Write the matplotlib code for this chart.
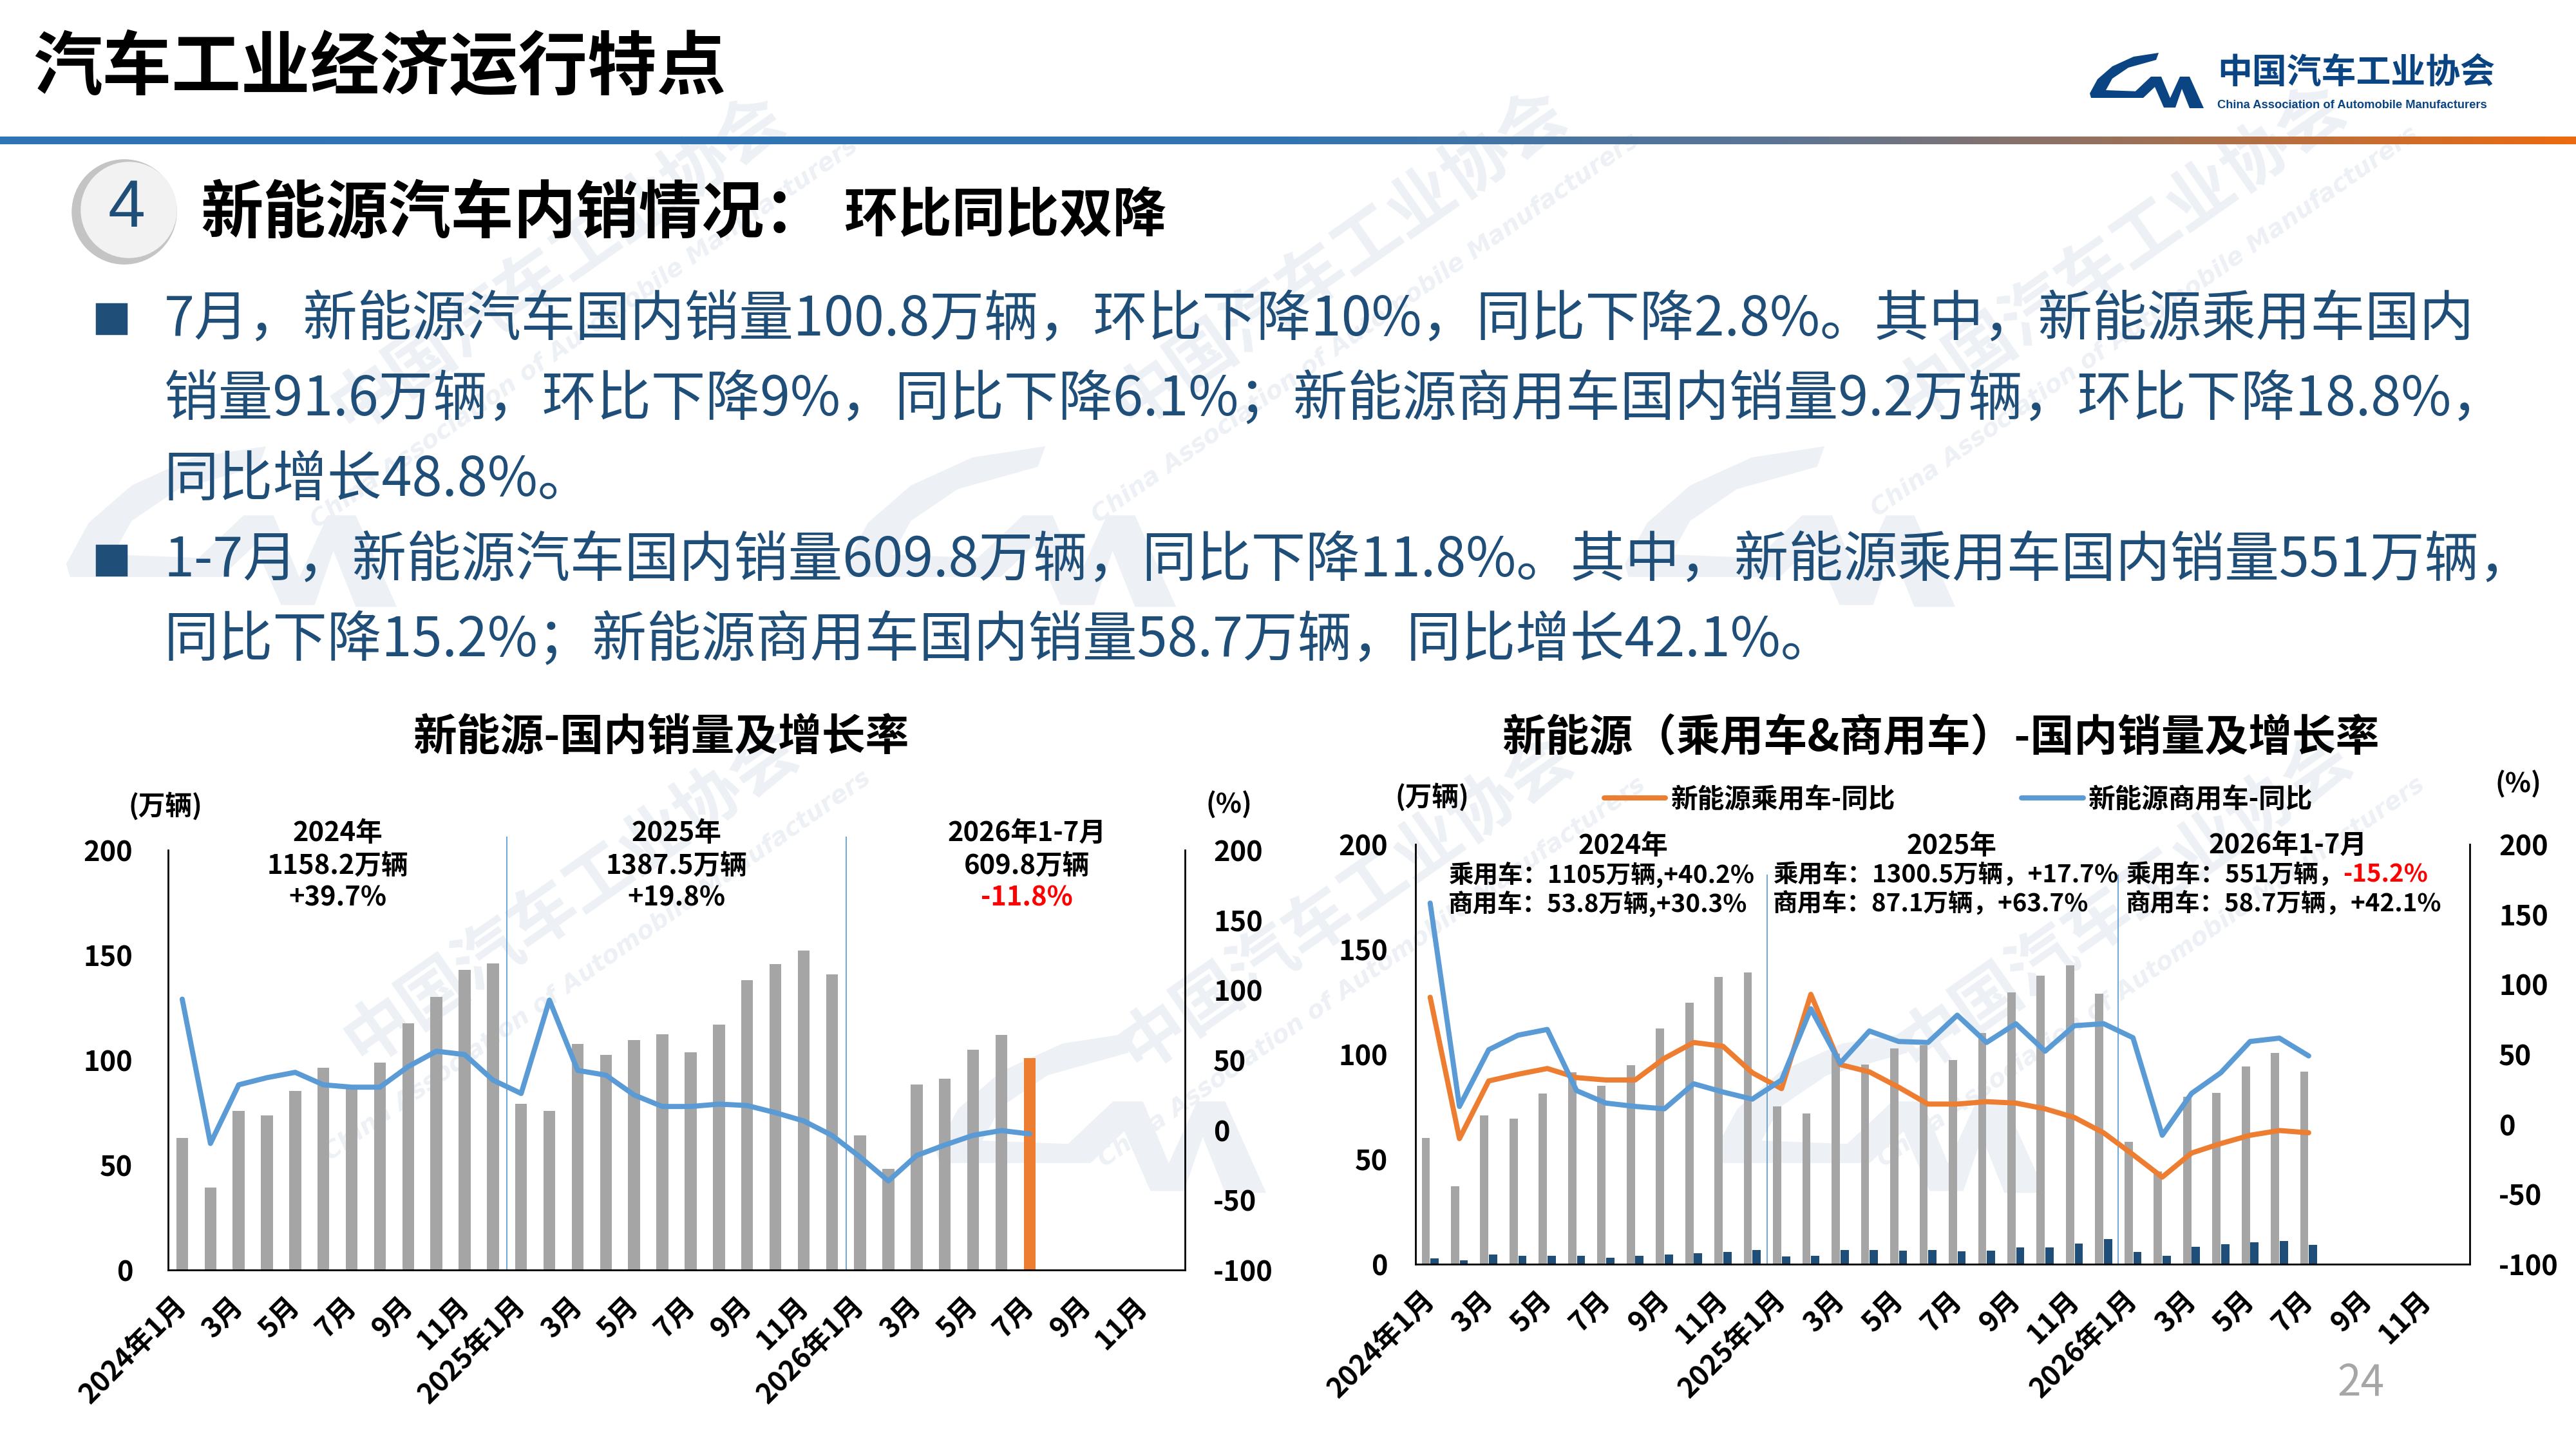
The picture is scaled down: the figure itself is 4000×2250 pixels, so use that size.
import numpy as np
import matplotlib
matplotlib.use("Agg")
import matplotlib.pyplot as plt
from matplotlib.patches import Circle, Rectangle, Polygon
from matplotlib.colors import LinearSegmentedColormap

plt.rcParams['font.family'] = ['Noto Sans CJK SC', 'DejaVu Sans']
plt.rcParams['font.weight'] = 'bold'
plt.rcParams['axes.unicode_minus'] = False

# ---------------- data ----------------
tick_labels = ['2024年1月', '3月', '5月', '7月', '9月', '11月',
               '2025年1月', '3月', '5月', '7月', '9月', '11月',
               '2026年1月', '3月', '5月', '7月', '9月', '11月']

# total NEV domestic sales (万辆), 2024-01 .. 2026-07
total_sales = [62.8, 39.4, 75.8, 73.5, 85.4, 96.2, 88.0, 98.9, 117.5, 130.0, 142.9, 146.1,
               79.0, 75.8, 107.6, 102.4, 109.5, 112.2, 103.7, 117.0, 138.0, 145.6, 152.0, 140.8,
               64.1, 48.1, 88.2, 91.1, 104.9, 112.0, 100.8]
total_yoy = [93.5, -9.6, 32.3, 37.4, 41.2, 32.3, 30.6, 30.6, 45.3, 56.3, 53.9, 35.7,
             26.1, 92.8, 42.6, 39.2, 25.0, 16.8, 16.8, 18.5, 17.5, 12.4, 6.5, -3.8,
             -19.3, -36.4, -18.2, -10.7, -3.8, -0.4, -2.8]

# passenger / commercial split
pv_sales = [60.0, 37.1, 70.8, 69.4, 81.3, 91.4, 85.0, 94.8, 112.4, 124.6, 136.7, 139.0,
            75.3, 71.7, 100.3, 95.0, 102.8, 104.2, 97.1, 110.1, 129.6, 137.4, 142.2, 128.9,
            58.2, 44.2, 79.7, 81.5, 94.3, 100.5, 91.6]
cv_sales = [2.7, 1.8, 4.6, 3.9, 3.9, 4.1, 3.2, 3.9, 4.6, 5.3, 5.7, 6.9,
            3.7, 3.9, 6.9, 6.9, 6.4, 6.9, 6.0, 6.4, 8.0, 8.0, 9.8, 11.9,
            5.7, 3.9, 8.2, 9.4, 10.3, 11.0, 9.2]
pv_yoy = [90.7, -10.3, 30.9, 35.7, 39.8, 33.3, 31.6, 31.6, 47.1, 58.4, 55.7, 36.8,
          25.4, 92.8, 42.6, 37.4, 26.4, 14.4, 14.4, 16.1, 15.1, 11.0, 4.8, -6.2,
          -21.7, -37.8, -20.6, -13.8, -7.9, -4.5, -6.1]
cv_yoy = [158.0, 12.7, 53.2, 63.6, 67.7, 24.0, 15.1, 12.7, 11.0, 28.9, 23.0, 17.9,
          31.6, 82.5, 43.6, 66.6, 59.1, 58.4, 77.9, 58.4, 71.8, 52.2, 70.4, 71.8,
          61.8, -7.9, 22.0, 36.8, 59.1, 61.5, 48.8]

bullet_lines = [
    '7月，新能源汽车国内销量100.8万辆，环比下降10%，同比下降2.8%。其中，新能源乘用车国内',
    '销量91.6万辆，环比下降9%，同比下降6.1%；新能源商用车国内销量9.2万辆，环比下降18.8%，',
    '同比增长48.8%。',
    '1-7月，新能源汽车国内销量609.8万辆，同比下降11.8%。其中，新能源乘用车国内销量551万辆，',
    '同比下降15.2%；新能源商用车国内销量58.7万辆，同比增长42.1%。',
]

GREY = '#A5A5A5'
ORANGE = '#ED7D31'
BLUE = '#5B9BD5'
NAVY = '#1F4E79'
LOGO = '#0B4482'
WM = '#EDF1F6'
LW = 2.3

W, H = 4000, 2250
fig = plt.figure(figsize=(16, 9), dpi=250)
fig.patch.set_facecolor('white')


def fx(x):
    return x / W


def fy(y):
    return 1 - y / H


# background layer in pixel units (y downwards)
bg = fig.add_axes([0, 0, 1, 1], zorder=-5)
bg.axis('off')

# logo shape in its own pixel frame (about 178 x 89)
logo_c = [(108, 1), (69, 7), (36, 22), (13, 42), (1, 64), (3, 71), (74, 71), (78, 61),
          (26, 59), (36, 41), (61, 24), (104, 12)]
logo_m1 = [(61, 71), (96, 38), (112, 38), (132, 86), (116, 86), (102, 54), (84, 71)]
logo_m2 = [(119, 86), (141, 38), (156, 38), (178, 87), (156, 87), (144, 57), (134, 86)]


def draw_logo(x0, y0, s, color, z=1):
    for shape in (logo_c, logo_m1, logo_m2):
        pts = [(x0 + s * px, y0 + s * py) for px, py in shape]
        bg.add_patch(Polygon(pts, closed=True, color=color, lw=0, zorder=z))


# faint watermarks
for cx, cy in [(100, 690), (1310, 690), (2520, 690), (1450, 1600), (2660, 1600)]:
    draw_logo(cx, cy, 2.9, WM, z=0)
for cx, cy in [(867, 408), (2080, 400), (3290, 390), (887, 1390), (2090, 1400), (3300, 1400)]:
    bg.text(cx, cy, '中国汽车工业协会', fontsize=30, color=WM, rotation=35,
            ha='center', va='center', zorder=0)
    bg.text(cx + 40, cy + 110, 'China Association of Automobile Manufacturers', fontsize=11,
            color=WM, rotation=35, ha='center', va='center', style='italic', zorder=0,
            family='DejaVu Sans')

# header
bg.text(51, 107, '汽车工业经济运行特点', fontsize=31, color='black', va='center')
cmap = LinearSegmentedColormap.from_list('hdr', [(0, '#2E75B6'), (0.5, '#3274B2'),
                                                 (0.7, '#5E7592'), (0.85, '#A5704F'),
                                                 (1, '#EC6A10')])
bg.imshow(np.linspace(0, 1, 500)[None, :], extent=[0, W, 224, 212], cmap=cmap,
          aspect='auto', zorder=2)

draw_logo(3244, 81, 1.0, LOGO, z=3)
bg.text(3443, 113, '中国汽车工业协会', fontsize=15.5, color=LOGO, va='center')
bg.text(3443, 164, 'China Association of Automobile Manufacturers', fontsize=5.3,
        color=LOGO, va='center', family='Liberation Sans')

# section marker
bg.add_patch(Circle((193, 329), 80, color='#C4C4C4', zorder=2))
bg.add_patch(Circle((200, 326), 73, color='#F2F2F2', zorder=3))
bg.text(197, 326, '4', fontsize=30, color=NAVY, ha='center', va='center',
        weight='normal', family='Liberation Sans', zorder=4)
bg.text(311, 332, '新能源汽车内销情况：', fontsize=28, color='black', va='center')
bg.text(1311, 336, '环比同比双降', fontsize=24, color='black', va='center')

# bullets
for by in (495, 870):
    bg.add_patch(Rectangle((150, by - 23), 46, 46, color=NAVY, zorder=2))
line_y = [497, 621, 746, 871, 995]
txts = [bg.text(255, yy, s, fontsize=24, color=NAVY, va='center', weight='normal')
        for s, yy in zip(bullet_lines, line_y)]
r = fig.canvas.get_renderer()
scale = 3592 / txts[0].get_window_extent(r).width
for t in txts:
    t.set_fontsize(24 * scale)

bg.text(3666, 2148, '24', fontsize=19, color='#A6A6A6', ha='center', va='center',
        weight='normal')

bg.set_xlim(0, W)
bg.set_ylim(H, 0)

x_all = np.arange(36)
n = len(total_sales)


def style_pair(ax, axr, lpad, rpad):
    ax.set_facecolor('none')
    ax.set_xlim(-0.5, 35.5)
    ax.set_ylim(0, 200)
    ax.set_yticks(range(0, 201, 50))
    axr.set_ylim(-100, 200)
    axr.set_yticks(range(-100, 201, 50))
    for s in ('top', 'right'):
        ax.spines[s].set_visible(False)
    for s in ('top', 'left', 'bottom'):
        axr.spines[s].set_visible(False)
    for sp in (ax.spines['left'], ax.spines['bottom'], axr.spines['right']):
        sp.set_linewidth(0.8)
        sp.set_color('black')
    ax.tick_params(axis='y', length=0, pad=lpad, labelsize=12.5)
    axr.tick_params(axis='y', length=0, pad=rpad, labelsize=12.5)
    ax.set_xticks(x_all[::2])
    ax.set_xticklabels(tick_labels, rotation=45, ha='right', va='center',
                       rotation_mode='anchor', fontsize=12.5)
    ax.tick_params(axis='x', length=0, pad=14)


# ---------------- left chart ----------------
ax1 = fig.add_axes([fx(261), fy(1972), (1840 - 261) / W, 652 / H])
ax1b = ax1.twinx()
bar_colors = [GREY] * (n - 1) + [ORANGE]
ax1.bar(x_all[:n], total_sales, width=0.42, color=bar_colors, zorder=2)
ax1b.plot(x_all[:n], total_yoy, color=BLUE, lw=LW, solid_joinstyle='round',
          solid_capstyle='round')
style_pair(ax1, ax1b, 15.8, 12.7)
ax1.vlines([11.5, 23.5], 0, 206.5, color=BLUE, lw=0.5, clip_on=False, zorder=1)

ann_kw = dict(ha='center', va='center', fontsize=12, clip_on=False)
ax1.text(5.5, 208, '2024年', **ann_kw)
ax1.text(5.5, 192.5, '1158.2万辆', **ann_kw)
ax1.text(5.5, 177, '+39.7%', **ann_kw)
ax1.text(17.5, 208, '2025年', **ann_kw)
ax1.text(17.5, 192.5, '1387.5万辆', **ann_kw)
ax1.text(17.5, 177, '+19.8%', **ann_kw)
ax1.text(29.9, 208, '2026年1-7月', **ann_kw)
ax1.text(29.9, 192.5, '609.8万辆', **ann_kw)
ax1.text(29.9, 177, '-11.8%', color='red', **ann_kw)

fig.text(fx(1026), fy(1146), '新能源-国内销量及增长率', fontsize=19.5, ha='center', va='center')
fig.text(fx(257), fy(1253), '(万辆)', fontsize=12, ha='center', va='center')
fig.text(fx(1908), fy(1250), '(%)', fontsize=12, ha='center', va='center')

# ---------------- right chart ----------------
ax2 = fig.add_axes([fx(2198), fy(1963), (3835 - 2198) / W, 652 / H])
ax2b = ax2.twinx()
ax2.bar(x_all[:n] - 0.15, pv_sales, width=0.28, color=GREY, zorder=2)
ax2.bar(x_all[:n] + 0.15, cv_sales, width=0.28, color=NAVY, zorder=2)
ax2b.plot(x_all[:n], pv_yoy, color=ORANGE, lw=LW, solid_joinstyle='round',
          solid_capstyle='round', label='新能源乘用车-同比')
ax2b.plot(x_all[:n], cv_yoy, color=BLUE, lw=LW, solid_joinstyle='round',
          solid_capstyle='round', label='新能源商用车-同比')
style_pair(ax2, ax2b, 12.4, 13)
ax2.vlines([11.5, 23.5], 0, 185.5, color=BLUE, lw=0.5, clip_on=False, zorder=1)
ax2b.legend(loc='center', bbox_to_anchor=(0.515, 1.106), ncol=2, frameon=False,
            handlelength=2.3, columnspacing=4.7, handletextpad=0.2, fontsize=12)

sub_kw = dict(ha='left', va='center', fontsize=11.1, clip_on=False)
ax2.text(6.6, 199, '2024年', ha='center', va='center', fontsize=12, clip_on=False)
ax2.text(0.62, 185.6, '乘用车：1105万辆,+40.2%', **sub_kw)
ax2.text(0.62, 171.8, '商用车：53.8万辆,+30.3%', **sub_kw)
ax2.text(17.8, 199, '2025年', ha='center', va='center', fontsize=12, clip_on=False)
ax2.text(11.7, 185.6, '乘用车：1300.5万辆，+17.7%', **sub_kw)
ax2.text(11.7, 171.8, '商用车：87.1万辆，+63.7%', **sub_kw)
ax2.text(29.3, 199.5, '2026年1-7月', ha='center', va='center', fontsize=12, clip_on=False)
t = ax2.text(23.75, 185.6, '乘用车：551万辆，', **sub_kw)
ax2.annotate('-15.2%', xycoords=t, xy=(1, 0.5), va='center', ha='left',
             fontsize=11.1, color='red')
ax2.text(23.75, 171.8, '商用车：58.7万辆，+42.1%', **sub_kw)

fig.text(fx(3013), fy(1146), '新能源（乘用车&商用车）-国内销量及增长率', fontsize=19.5,
         ha='center', va='center')
fig.text(fx(2224), fy(1239), '(万辆)', fontsize=12, ha='center', va='center')
fig.text(fx(3910), fy(1218), '(%)', fontsize=12, ha='center', va='center')

fig.savefig('out.png', dpi=250, facecolor='white')
